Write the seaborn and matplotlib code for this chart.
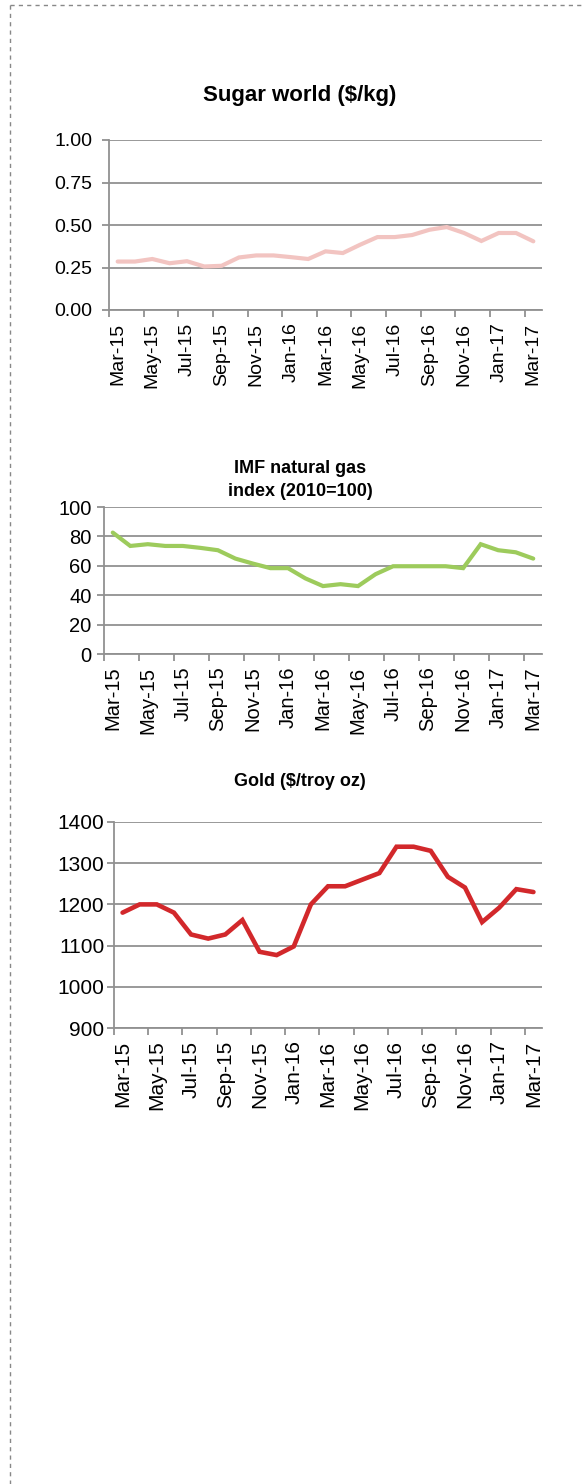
import numpy as np
import pandas as pd
import matplotlib
matplotlib.use("Agg")
import matplotlib.pyplot as plt
from matplotlib.lines import Line2D
import seaborn as sns

sns.set_theme(style="white")
plt.rcParams['font.family'] = ['Liberation Sans', 'DejaVu Sans']

months = ["Mar-15", "Apr-15", "May-15", "Jun-15", "Jul-15", "Aug-15", "Sep-15", "Oct-15",
          "Nov-15", "Dec-15", "Jan-16", "Feb-16", "Mar-16", "Apr-16", "May-16", "Jun-16",
          "Jul-16", "Aug-16", "Sep-16", "Oct-16", "Nov-16", "Dec-16", "Jan-17", "Feb-17", "Mar-17"]

sugar = [0.285, 0.285, 0.30, 0.275, 0.287, 0.256, 0.26, 0.309, 0.321, 0.321, 0.311, 0.30,
         0.345, 0.335, 0.384, 0.429, 0.429, 0.441, 0.472, 0.488, 0.453, 0.406, 0.453, 0.453, 0.404]
gas = [82.6, 73.5, 74.7, 73.5, 73.5, 72.2, 70.6, 64.9, 61.5, 58.4, 58.4, 51.4,
       46.2, 47.5, 46.2, 54.3, 59.7, 59.7, 59.7, 59.7, 58.4, 74.7, 70.6, 69.2, 64.9]
gold = [1180, 1200, 1200, 1180, 1127, 1117, 1127, 1162, 1085, 1077, 1098, 1200,
        1244, 1244, 1260, 1276, 1340, 1340, 1330, 1267, 1241, 1157, 1192, 1237, 1230]

titles = ["Sugar world ($/kg)", "IMF natural gas\nindex (2010=100)", "Gold ($/troy oz)"]
colors = ["#f2c4c1", "#9dcb5c", "#d2282b"]
yticks_list = [[0.0, 0.25, 0.5, 0.75, 1.0], [0, 20, 40, 60, 80, 100],
               [900, 1000, 1100, 1200, 1300, 1400]]
yfmt = ["{:.2f}", "{:.0f}", "{:.0f}"]

W, H = 585, 1484
fig = plt.figure(figsize=(W / 100, H / 100), dpi=100)

# axes boxes in pixel coords: left, right, top, bottom
boxes = [(109, 542, 140, 310), (104, 542, 507, 654), (114, 542, 822, 1028)]
title_y = [95, 480, 782]
title_fs = [16, 13, 13]
ylab_fs = [14, 14.5, 15]
xlab_fs = [14, 14.5, 15]
ypad = [7, 4, 2]
lws = [3.0, 3.0, 3.3]

grid_c = "#919191"
series = [sugar, gas, gold]
for k in range(3):
    l, r, t, b = boxes[k]
    ax = fig.add_axes([l / W, 1 - b / H, (r - l) / W, (b - t) / H])
    df = pd.DataFrame({"pos": np.arange(len(months)) + 0.5, "val": series[k]})
    sns.lineplot(data=df, x="pos", y="val", ax=ax, color=colors[k], linewidth=lws[k],
                 solid_joinstyle="miter")
    ax.set_xlim(0, len(months))
    yt = yticks_list[k]
    ax.set_ylim(yt[0], yt[-1])
    ax.set_yticks(yt)
    ax.set_yticklabels([yfmt[k].format(v) for v in yt])
    ax.yaxis.grid(True, color=grid_c, linewidth=1.3)
    ax.set_axisbelow(True)
    ax.set_xticks(np.arange(0, len(months), 2))
    ax.set_xticklabels([])
    ax.set_xticks(np.arange(0, len(months), 2) + 0.5, minor=True)
    ax.set_xticklabels(months[::2], minor=True, rotation=90)
    ax.tick_params(axis="x", which="major", length=5, width=1.3, color=grid_c, direction="out", bottom=True)
    ax.tick_params(axis="x", which="minor", length=0, pad=9, labelsize=xlab_fs[k],
                   labelcolor="black", bottom=True)
    ax.tick_params(axis="y", length=5, width=1.3, color=grid_c, direction="out", left=True,
                   labelsize=ylab_fs[k], labelcolor="black", pad=ypad[k])
    for s in ["top", "right"]:
        ax.spines[s].set_visible(False)
    for s in ["left", "bottom"]:
        ax.spines[s].set_color(grid_c)
        ax.spines[s].set_linewidth(1.3)
    ax.set_xlabel("")
    ax.set_ylabel("")
    fig.text(300 / W, 1 - title_y[k] / H, titles[k], ha="center", va="center",
             fontsize=title_fs[k], fontweight="bold", color="black", linespacing=1.45)

# dashed border (top and left)
fig.add_artist(Line2D([10 / W, 1.0], [1 - 5 / H, 1 - 5 / H], transform=fig.transFigure,
                      color="#888888", linewidth=1.0, linestyle=(0, (3, 3))))
fig.add_artist(Line2D([10 / W, 10 / W], [1 - 5 / H, 0.0], transform=fig.transFigure,
                      color="#888888", linewidth=1.0, linestyle=(0, (3, 3))))

fig.savefig("out.png", dpi=100, facecolor="white")
